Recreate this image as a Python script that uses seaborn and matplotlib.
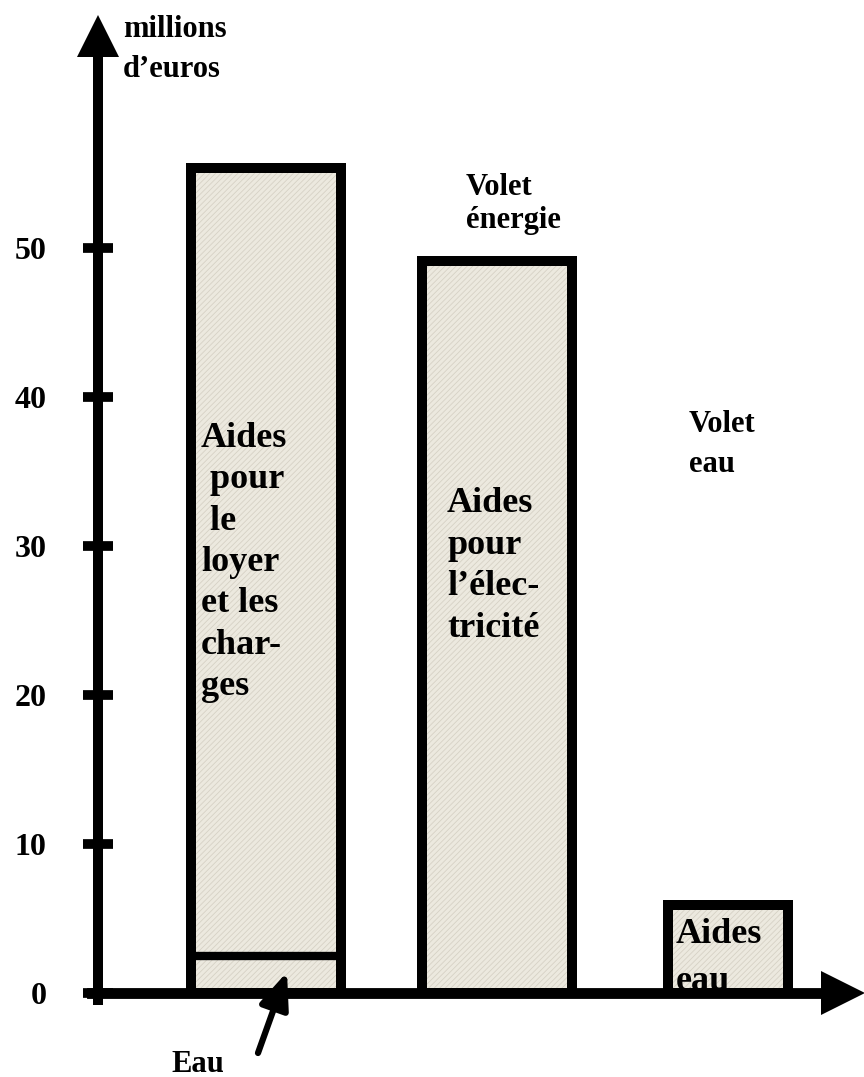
import matplotlib
matplotlib.use("Agg")
import matplotlib.pyplot as plt
import seaborn as sns
import pandas as pd

# values (millions d'euros)
categories = ["Aides pour le loyer et les charges", "Aides pour l'électricité", "Aides eau"]
totals = [55.4, 49.1, 5.9]
eau_part = [2.5]          # "Eau" slice at the foot of the first bar
yticks = [0, 10, 20, 30, 40, 50]

W, H = 864, 1077
X0, DX = 266, 231         # pixel centre of first bar, pixels between bars
Y0, DY = 993, 14.9        # pixel row of 0, pixels per million


def xd(px):
    return (px - X0) / DX


def yd(py):
    return (Y0 - py) / DY


sns.set_theme(style="white")
plt.rcParams["font.family"] = ["Liberation Serif", "DejaVu Serif"]
plt.rcParams["font.weight"] = "bold"
plt.rcParams["hatch.linewidth"] = 0.6

fig = plt.figure(figsize=(W / 100, H / 100), dpi=100)
ax = fig.add_axes([0, 0, 1, 1])

df = pd.DataFrame({"aide": categories, "montant": totals})
df_eau = pd.DataFrame({"aide": categories[:1], "montant": eau_part})

# textured fill, then black outlines, then the "Eau" slice
sns.barplot(data=df, x="aide", y="montant", order=categories, color="#ECE9DF",
            saturation=1, width=0.65, errorbar=None, edgecolor="#D6D1C5",
            linewidth=0, hatch="//////", ax=ax)
sns.barplot(data=df, x="aide", y="montant", order=categories, color="black",
            fill=False, width=0.65, errorbar=None, linewidth=7.2, ax=ax)
sns.barplot(data=df_eau, x="aide", y="montant", order=categories, color="black",
            fill=False, width=0.65, errorbar=None, linewidth=6, ax=ax)

# the water bar is narrower
for p in ax.patches:
    cx = p.get_x() + p.get_width() / 2
    if abs(cx - 2) < 0.1:
        p.set_width(0.52)
        p.set_x(cx - 0.26)

ax.set_xlim(xd(0), xd(W))
ax.set_ylim(yd(H), yd(0))
ax.set_xlabel("")
ax.set_ylabel("")
ax.set_xticks([])
ax.set_yticks(yticks)
ax.set_facecolor("white")

for s in ["top", "right"]:
    ax.spines[s].set_visible(False)
ax.spines["left"].set_position(("data", xd(98)))
ax.spines["left"].set_bounds(yd(1000), yd(50))
ax.spines["left"].set_linewidth(7.2)
ax.spines["left"].set_color("black")
ax.spines["bottom"].set_position(("data", 0))
ax.spines["bottom"].set_bounds(xd(92), xd(835))
ax.spines["bottom"].set_linewidth(7.8)
ax.spines["bottom"].set_color("black")

ax.tick_params(axis="y", left=True, direction="inout", length=22, width=7,
               color="black", pad=26, labelsize=23, labelcolor="black")
for lab in ax.get_yticklabels():
    lab.set_fontweight("bold")

# arrow heads
ax.plot([xd(98)], [yd(36)], marker="^", ms=30, color="black", mew=0, clip_on=False, zorder=3)
ax.plot([xd(843)], [0], marker=">", ms=32, color="black", mew=0, clip_on=False, zorder=3)


def fx(px):
    return px / W


def fy(py):
    return 1 - py / H


def lines(txt, x, y, step, size, z=3):
    for i, t in enumerate(txt):
        ax.text(fx(x), fy(y + i * step), t, transform=ax.transAxes, ha="left",
                va="baseline", fontsize=size, fontweight="bold", color="black", zorder=z)


lines(["millions", "d\u2019euros"], 123, 37, 40, 22)
lines(["Volet", "énergie"], 466, 195, 33, 22)
lines(["Volet", "eau"], 689, 432, 40, 22)
lines(["Aides", " pour", " le", "loyer", "et les", "char-", "ges"], 201, 447, 41.3, 26)
lines(["Aides", "pour", "l\u2019élec-", "tricité"], 447, 512, 41.7, 26)
lines(["Aides", "eau"], 676, 943, 47, 26, z=2)

ax.annotate("", xy=(fx(287), fy(972)), xytext=(fx(258), fy(1053)),
            xycoords="axes fraction",
            arrowprops=dict(arrowstyle="-|>,head_length=1.1,head_width=0.45", lw=4.5,
                            color="black", shrinkA=0, shrinkB=0, mutation_scale=20),
            zorder=4)
ax.text(fx(198), fy(1072), "Eau", transform=ax.transAxes, ha="center", va="baseline",
        fontsize=22, fontweight="bold", color="black")

fig.savefig("out.png", dpi=100, facecolor="white")
